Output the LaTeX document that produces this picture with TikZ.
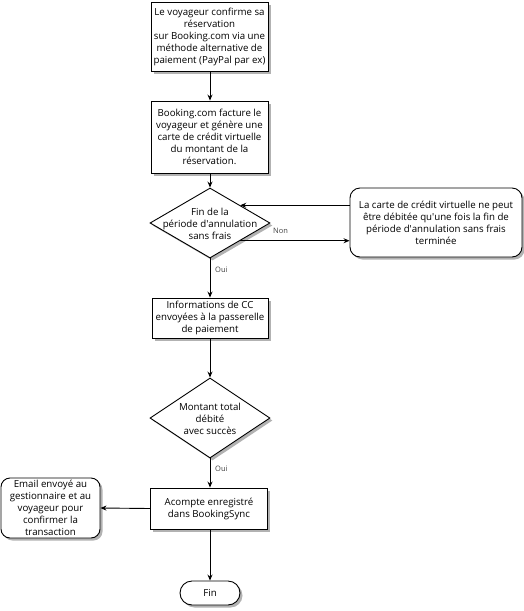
\documentclass[tikz,border=0pt]{standalone}
\usepackage{fontspec}
\setmainfont{Open Sans}
\usetikzlibrary{shapes.geometric,shadows,arrows.meta}
\newcommand{\apos}{\textquotesingle}
\begin{document}
\begin{tikzpicture}[x=1pt,y=-1pt,
  shad/.style={drop shadow={shadow xshift=2.5pt,shadow yshift=-2.5pt,fill=black!30,opacity=1}},
  txt/.style={font=\fontsize{9.7}{12}\selectfont,align=center},
  boxst/.style={draw=black,line width=0.9pt,fill=white,shad,txt,inner sep=0pt},
  dec/.style={diamond,draw=black,line width=0.9pt,fill=white,shad,inner sep=0pt},
  decl/.style={txt},
  arr/.style={draw=black,line width=0.9pt,-{Stealth[length=6pt,width=5pt]}},
  lbl/.style={font=\fontsize{7.5}{8}\selectfont,text=black!75,inner sep=1pt}]
\useasboundingbox (0,0) rectangle (523,611);
\node[boxst,minimum width=117pt,minimum height=69pt] (b1) at (209.5,36.5)
  {Le voyageur confirme sa\\réservation\\sur Booking.com via une\\méthode alternative de\\paiement (PayPal par ex)};
\node[boxst,minimum width=117pt,minimum height=72pt] (b2) at (209.5,137)
  {Booking.com facture le\\voyageur et génère une\\carte de crédit virtuelle\\du montant de la\\réservation.};
\node[dec,minimum width=120pt,minimum height=70pt] (d1) at (210,223) {};
\node[decl] (d1t) at (210,224) {Fin de la\\période d\apos annulation\\sans frais};
\node[boxst,rounded corners=10pt,minimum width=172pt,minimum height=69pt] (r1) at (436,222.5)
  {La carte de crédit virtuelle ne peut\\être débitée qu\apos une fois la fin de\\période d\apos annulation sans frais\\terminée};
\node[boxst,minimum width=116pt,minimum height=40pt] (b3) at (210,318)
  {Informations de CC\\envoyées à la passerelle\\de paiement};
\node[dec,minimum width=120pt,minimum height=80pt] (d2) at (210,418) {};
\node[decl] (d2t) at (210,419) {Montant total\\débité\\avec succès};
\node[boxst,minimum width=117pt,minimum height=41pt] (b4) at (209,508.5)
  {Acompte enregistré\\dans BookingSync};
\node[boxst,rounded corners=9pt,minimum width=99pt,minimum height=60pt] (em) at (50.5,508)
  {Email envoyé au\\gestionnaire et au\\voyageur pour\\confirmer la\\transaction};
\node[boxst,rounded corners=12pt,minimum width=60pt,minimum height=24pt] (fin) at (210,593) {Fin};
\draw[arr] (b1.south -| d1.north) -- (d1.north |- b2.north);
\draw[arr] (d1.north |- b2.south) -- (d1.north);
\draw[arr] (d1.south east) -- (d1.south east -| r1.west);
\draw[arr] (r1.west |- d1.north east) -- (d1.north east);
\draw[arr] (d1.south) -- (d1.south |- b3.north);
\draw[arr] (d2.north |- b3.south) -- (d2.north);
\draw[arr] (d2.south) -- (d2.south |- b4.north);
\draw[arr] (b4.west) -- (em.east);
\draw[arr] (fin.north |- b4.south) -- (fin.north);
\node[lbl,anchor=west] (non) at (272,231) {Non};
\node[lbl,anchor=west] (oui1) at (214,270) {Oui};
\node[lbl,anchor=west] (oui2) at (214,469) {Oui};
\end{tikzpicture}
\end{document}
